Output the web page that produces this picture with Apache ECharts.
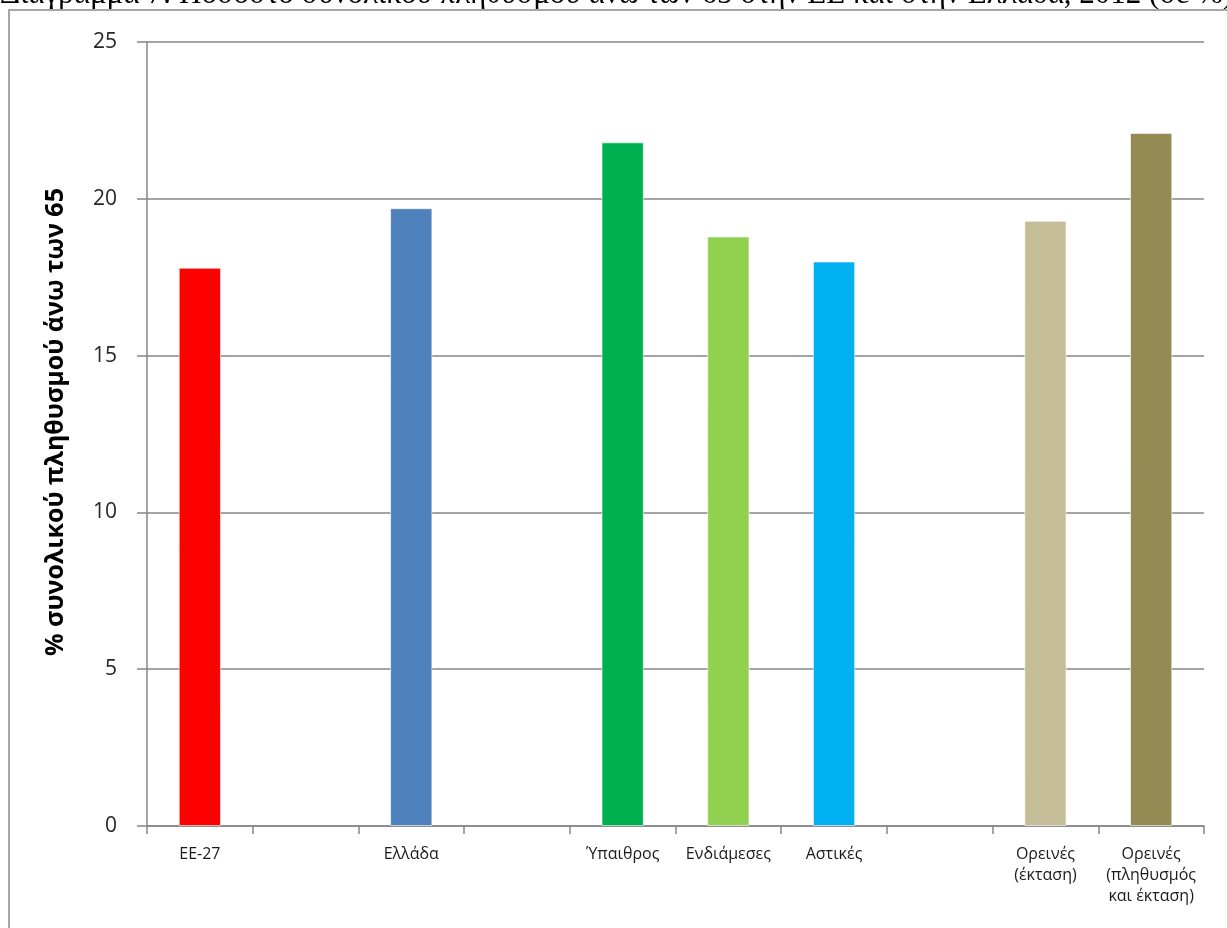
<!DOCTYPE html>
<html>
<head>
<meta charset="utf-8">
<script src="https://cdn.jsdelivr.net/npm/echarts@6/dist/echarts.min.js"></script>
<style>
html,body{margin:0;padding:0;background:#fff;}
#chart{width:1227px;height:928px;}
</style>
</head>
<body>
<div id="chart"></div>
<script>
const categories = ['ΕΕ-27', ' ', 'Ελλάδα', '  ', 'Ύπαιθρος', 'Ενδιάμεσες', 'Αστικές', '   ', 'Ορεινές\n(έκταση)', 'Ορεινές\n(πληθυσμός\nκαι έκταση)'];
const values = [17.8, null, 19.7, null, 21.8, 18.8, 18.0, null, 19.3, 22.1];
const barColors = ['#FF0000', '#FFFFFF', '#4F81BD', '#FFFFFF', '#00B050', '#92D050', '#00B0F0', '#FFFFFF', '#C4BD97', '#948A54'];
const yTicks = [0, 5, 10, 15, 20, 25];
const yTitle = '% συνολικού πληθυσμού άνω των 65';
const titleText = 'Διάγραμμα 7: Ποσοστό συνολικού πληθυσμού άνω των 65 στην ΕΕ και στην Ελλάδα, 2012 (σε %)';

const chart = echarts.init(document.getElementById('chart'));
chart.setOption({
  animation: false,
  backgroundColor: '#fff',
  graphic: [
    { type: 'text', left: 0, top: -21, style: { text: titleText, font: '31px "Liberation Serif", serif', fill: '#000' }, z: 1 },
    { type: 'rect', shape: { x: 9, y: 10, width: 1240, height: 940 }, style: { fill: 'none', stroke: '#a6a6a6', lineWidth: 2 }, z: 2 }
  ],
  grid: { left: 147, top: 42, right: 23, bottom: 102, containLabel: false },
  xAxis: {
    type: 'category',
    data: categories,
    boundaryGap: true,
    axisLine: { lineStyle: { color: '#868686', width: 1.5 } },
    axisTick: { show: true, interval: 0, length: 8, lineStyle: { color: '#868686', width: 1.5 } },
    axisLabel: { interval: 0, margin: 18, fontSize: 16, lineHeight: 21, color: '#1a1a1a', fontFamily: '"Open Sans", sans-serif' },
    splitLine: { show: false }
  },
  yAxis: {
    type: 'value',
    min: yTicks[0],
    max: yTicks[yTicks.length - 1],
    interval: 5,
    name: yTitle,
    nameLocation: 'middle',
    nameGap: 79,
    nameRotate: 90,
    nameTextStyle: { fontSize: 25, fontWeight: 'bold', color: '#000', fontFamily: '"Open Sans", sans-serif', padding: [0, 0, 0, 24] },
    axisLine: { show: true, lineStyle: { color: '#868686', width: 1.5 } },
    axisTick: { show: true, length: 10, lineStyle: { color: '#868686', width: 1.5 } },
    axisLabel: { margin: 30, fontSize: 21, color: '#262626', fontFamily: '"Open Sans", sans-serif' },
    splitLine: { show: true, lineStyle: { color: '#868686', width: 1.5 } }
  },
  series: [{
    type: 'bar',
    barWidth: '40%',
    data: values.map((v, i) => ({ value: v, itemStyle: { color: barColors[i] } })),
    itemStyle: { borderColor: 'rgba(255,255,255,0.6)', borderWidth: 1 }
  }]
});
</script>
</body>
</html>
